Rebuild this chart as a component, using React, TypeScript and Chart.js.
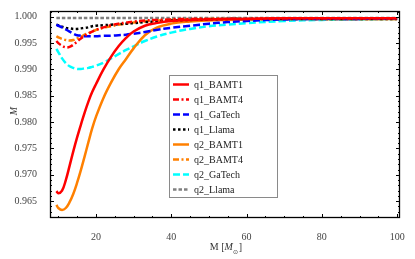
import React, { useEffect, useRef } from "react";
import { Chart, registerables } from "chart.js";
Chart.register(...registerables);

const masses = [9.5, 10, 11, 12, 13, 14, 15, 16, 17, 18, 19, 20, 22, 24, 26, 28, 30, 33, 36, 40, 45, 50, 55, 60, 70, 80, 90, 100];

const q1_BAMT1 = [0.9669, 0.9665, 0.9670, 0.9690, 0.9717, 0.9745, 0.9771, 0.9795, 0.9818, 0.9839, 0.9857, 0.9872, 0.9900, 0.9924, 0.9944, 0.9960, 0.9972, 0.9983, 0.9988, 0.9992, 0.9994, 0.9995, 0.9996, 0.9996, 0.9997, 0.9997, 0.9997, 0.9997];
const q1_BAMT4 = [0.9954, 0.9950, 0.9945, 0.9942, 0.9943, 0.9947, 0.9953, 0.9959, 0.9964, 0.9968, 0.9972, 0.9975, 0.9980, 0.9984, 0.9987, 0.9989, 0.9991, 0.9993, 0.9994, 0.9995, 0.9996, 0.9996, 0.9996, 0.9996, 0.9997, 0.9997, 0.9997, 0.9997];
const q1_GaTech = [0.9985, 0.9983, 0.9980, 0.9976, 0.9972, 0.9968, 0.9965, 0.9964, 0.9963, 0.9963, 0.9963, 0.9963, 0.9964, 0.9964, 0.9965, 0.9966, 0.9968, 0.9971, 0.9975, 0.9979, 0.9983, 0.9987, 0.9990, 0.9992, 0.9995, 0.9996, 0.9996, 0.9997];
const q1_Llama = [0.9985, 0.9984, 0.9981, 0.9979, 0.9978, 0.9977, 0.9977, 0.9978, 0.9979, 0.9980, 0.9982, 0.9983, 0.9984, 0.9985, 0.9986, 0.9987, 0.9988, 0.9990, 0.9991, 0.9993, 0.9994, 0.9995, 0.9996, 0.9996, 0.9996, 0.9996, 0.9996, 0.9996];
const q2_BAMT1 = [0.9643, 0.9637, 0.9633, 0.9637, 0.9648, 0.9664, 0.9685, 0.9709, 0.9735, 0.9762, 0.9788, 0.9810, 0.9846, 0.9875, 0.9900, 0.9920, 0.9940, 0.9965, 0.9979, 0.9987, 0.9991, 0.9993, 0.9994, 0.9995, 0.9996, 0.9996, 0.9996, 0.9996];
const q2_BAMT4 = [0.9963, 0.9961, 0.9958, 0.9956, 0.9955, 0.9956, 0.9959, 0.9962, 0.9966, 0.9969, 0.9972, 0.9975, 0.9979, 0.9982, 0.9985, 0.9987, 0.9989, 0.9991, 0.9993, 0.9994, 0.9995, 0.9996, 0.9996, 0.9996, 0.9996, 0.9996, 0.9996, 0.9996];
const q2_GaTech = [0.9939, 0.9933, 0.9921, 0.9912, 0.9906, 0.9903, 0.9901, 0.9901, 0.9902, 0.9903, 0.9905, 0.9907, 0.9913, 0.9921, 0.9929, 0.9937, 0.9944, 0.9954, 0.9962, 0.9970, 0.9977, 0.9982, 0.9985, 0.9988, 0.9992, 0.9994, 0.9995, 0.9996];
const q2_Llama = [0.99975, 0.99975, 0.99975, 0.99975, 0.99975, 0.99975, 0.99975, 0.99975, 0.99975, 0.99975, 0.99975, 0.99975, 0.99975, 0.99975, 0.99975, 0.99975, 0.99975, 0.99975, 0.99975, 0.99975, 0.99975, 0.99975, 0.99975, 0.99975, 0.99975, 0.99975, 0.99975, 0.99975];

const xTickLabels = [20, 40, 60, 80, 100];
const yTickLabels = [0.965, 0.97, 0.975, 0.98, 0.985, 0.99, 0.995, 1.0];

const FONT = "'Liberation Serif', 'Times New Roman', serif";

const seriesDefs = [
  { label: "q1_BAMT1", data: q1_BAMT1, color: "#ff0000", dash: [] as number[] },
  { label: "q1_BAMT4", data: q1_BAMT4, color: "#ff0000", dash: [6, 2.5, 2, 2.5] },
  { label: "q1_GaTech", data: q1_GaTech, color: "#0000ff", dash: [7, 3] },
  { label: "q1_Llama", data: q1_Llama, color: "#000000", dash: [2.5, 2.5] },
  { label: "q2_BAMT1", data: q2_BAMT1, color: "#ff8000", dash: [] as number[] },
  { label: "q2_BAMT4", data: q2_BAMT4, color: "#ff8000", dash: [6, 2.5, 2, 2.5] },
  { label: "q2_GaTech", data: q2_GaTech, color: "#00ffff", dash: [7, 3] },
  { label: "q2_Llama", data: q2_Llama, color: "#808080", dash: [3.5, 2] },
];

const framePlugin = {
  id: "frame",
  afterDraw(chart: any) {
    const { ctx, chartArea, scales } = chart;
    const { left, right, top, bottom } = chartArea;
    const xs = scales.x;
    const ys = scales.y;
    ctx.save();
    ctx.strokeStyle = "#000";
    ctx.lineWidth = 1.3;
    ctx.strokeRect(left + 0.5, top + 0.5, right - left - 1, bottom - top - 1);
    ctx.lineWidth = 1;
    for (let v = 10; v <= 100; v += 5) {
      const px = Math.round(xs.getPixelForValue(v)) + 0.5;
      const len = v % 20 === 0 ? 4 : 2;
      ctx.beginPath();
      ctx.moveTo(px, bottom);
      ctx.lineTo(px, bottom - len);
      ctx.moveTo(px, top);
      ctx.lineTo(px, top + len);
      ctx.stroke();
    }
    for (let i = 962; i <= 1001; i++) {
      const v = i / 1000;
      const py = Math.round(ys.getPixelForValue(v)) + 0.5;
      if (py < top || py > bottom) continue;
      const len = i % 5 === 0 ? 4 : 2;
      ctx.beginPath();
      ctx.moveTo(left, py);
      ctx.lineTo(left + len, py);
      ctx.moveTo(right, py);
      ctx.lineTo(right - len, py);
      ctx.stroke();
    }
    ctx.fillStyle = "#333";
    ctx.save();
    ctx.translate(14, 111);
    ctx.rotate(-Math.PI / 2);
    ctx.font = `italic 10px ${FONT}`;
    ctx.textAlign = "center";
    ctx.textBaseline = "middle";
    ctx.fillText("M", 0, 0);
    ctx.restore();

    const parts = [
      { t: "M [", f: `10px ${FONT}`, dy: 0 },
      { t: "M", f: `italic 10px ${FONT}`, dy: 0 },
      { t: "⊙", f: `6px ${FONT}`, dy: 4 },
      { t: "]", f: `10px ${FONT}`, dy: 0 },
    ];
    let total = 0;
    for (const p of parts) {
      ctx.font = p.f;
      total += ctx.measureText(p.t).width + (p.t === "⊙" ? 1 : 0);
    }
    let x = 226 - total / 2;
    ctx.textAlign = "left";
    ctx.textBaseline = "alphabetic";
    for (const p of parts) {
      ctx.font = p.f;
      ctx.fillText(p.t, x, 250 + p.dy);
      x += ctx.measureText(p.t).width + (p.t === "⊙" ? 1 : 0);
    }

    const bx = 169.5, by = 75.5, bw = 108, bh = 122;
    ctx.fillStyle = "#fff";
    ctx.fillRect(bx, by, bw, bh);
    ctx.strokeStyle = "#8a8a8a";
    ctx.lineWidth = 1;
    ctx.strokeRect(bx, by, bw, bh);
    chart.data.datasets.forEach((ds: any, i: number) => {
      const cy = 84.5 + i * 15;
      ctx.strokeStyle = ds.borderColor;
      ctx.lineWidth = 2.5;
      ctx.setLineDash(ds.borderDash || []);
      ctx.beginPath();
      ctx.moveTo(173, cy);
      ctx.lineTo(189, cy);
      ctx.stroke();
      ctx.setLineDash([]);
      ctx.fillStyle = "#222";
      ctx.font = `10px ${FONT}`;
      ctx.textBaseline = "middle";
      ctx.fillText(ds.label, 194, cy + 0.5);
    });
    ctx.restore();
  },
};

export default function App() {
  const ref = useRef<HTMLCanvasElement | null>(null);
  useEffect(() => {
    document.body.style.margin = "0";
    const canvas = ref.current;
    if (!canvas) return;
    const chart = new Chart(canvas, {
      type: "line",
      data: {
        labels: masses,
        datasets: seriesDefs.map((s) => ({
          label: s.label,
          data: s.data.map((v, i) => ({ x: masses[i], y: v })),
          borderColor: s.color,
          backgroundColor: s.color,
          borderDash: s.dash,
          borderWidth: 2.5,
          pointRadius: 0,
          fill: false,
          tension: 0.4,
        })),
      },
      options: {
        animation: false,
        responsive: false,
        devicePixelRatio: 1,
        layout: { padding: { top: 1, right: 15, left: 0, bottom: 0 } },
        plugins: { legend: { display: false }, tooltip: { enabled: false } },
        scales: {
          x: {
            type: "linear",
            min: 7.8,
            max: 100.75,
            grid: { display: false },
            border: { display: false },
            afterBuildTicks: (s: any) => {
              s.ticks = xTickLabels.map((v) => ({ value: v }));
            },
            afterFit: (s: any) => {
              s.height = 41;
            },
            ticks: {
              autoSkip: false,
              maxRotation: 0,
              padding: 5,
              color: "#444",
              font: { family: FONT, size: 10 },
              callback: (v: any) => String(v),
            },
          },
          y: {
            type: "linear",
            min: 0.9618,
            max: 1.0011,
            grid: { display: false },
            border: { display: false },
            afterBuildTicks: (s: any) => {
              s.ticks = yTickLabels.map((v) => ({ value: v }));
            },
            afterFit: (s: any) => {
              s.width = 50;
            },
            ticks: {
              autoSkip: false,
              padding: 5,
              color: "#444",
              font: { family: FONT, size: 10 },
              callback: (v: any) => Number(v).toFixed(3),
            },
          },
        },
      },
      plugins: [framePlugin],
    });
    return () => chart.destroy();
  }, []);
  return (
    <div style={{ width: 415, height: 259 }}>
      <canvas ref={ref} width={415} height={259} style={{ display: "block" }} />
    </div>
  );
}
